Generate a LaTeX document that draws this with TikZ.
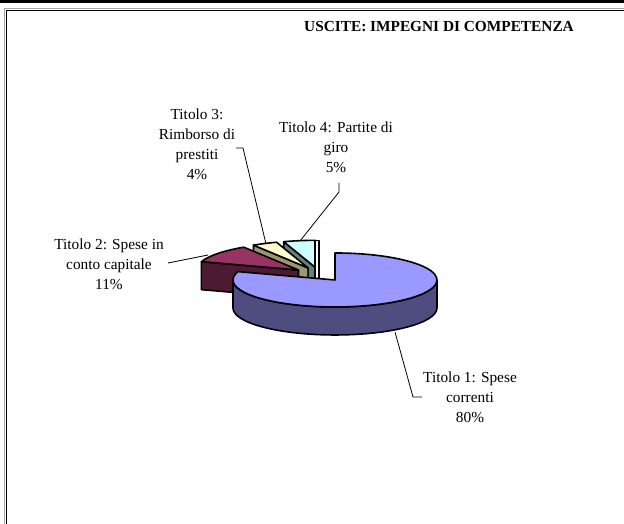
\documentclass[tikz,border=0pt]{standalone}
\usepackage{fontspec}
\setmainfont{Liberation Serif}
\usetikzlibrary{calc}
\definecolor{blueTop}{HTML}{9999FF}
\definecolor{blueSide}{HTML}{4D4D80}
\definecolor{redTop}{HTML}{993366}
\definecolor{redSide}{HTML}{4D1A33}
\definecolor{yelTop}{HTML}{FFFFCC}
\definecolor{yelSide}{HTML}{999970}
\definecolor{cyaTop}{HTML}{CCFFFF}
\definecolor{cyaSide}{HTML}{668080}
\begin{document}
\begin{tikzpicture}[x=0.75pt,y=0.75pt,
  slice/.style={draw=black,line width=1.2pt,line join=round},
  leader/.style={draw=black,line width=0.6pt},
  lbl/.style={align=center,inner sep=0pt,font=\fontsize{11.5}{15}\selectfont},
  ttl/.style={inner sep=0pt,font=\fontsize{11.5}{14}\selectfont\bfseries}]
\useasboundingbox (0,0) rectangle (624,524);
% frame
\fill[black] (0,521) rectangle (624,524);
\draw[gray!70,line width=0.7pt] (4.8,0) -- (4.8,515.2) -- (624,515.2);
\draw[black,line width=1.1pt] (6.5,0) -- (6.5,513.6) -- (624,513.6);
% pie geometry
\def\rx{102}\def\ry{27}\def\dep{28}
\coordinate (P) at (319.4,249.7);
\coordinate (S1) at ($(P)+({0.26*\rx*cos(-54)},{0.26*\ry*sin(-54)})$);
\coordinate (S2) at ($(P)+({0.26*\rx*cos(142.2)},{0.26*\ry*sin(142.2)})$);
\coordinate (S3) at ($(P)+({0.26*\rx*cos(115.2)},{0.26*\ry*sin(115.2)})$);
\coordinate (S4) at ($(P)+({0.26*\rx*cos(99)},{0.26*\ry*sin(99)})$);
% Titolo 4 (cyan)
\filldraw[slice,fill=cyaSide] (S4) -- ($(S4)+({\rx*cos(108)},{\ry*sin(108)})$) -- ++(0,-\dep) -- ($(S4)+(0,-\dep)$) -- cycle;
\filldraw[slice,fill=cyaTop] (S4) -- ($(S4)+(0,\ry)$)
  arc[start angle=90,end angle=108,x radius=\rx,y radius=\ry] -- cycle;
\filldraw[slice,fill=white] ($(S4)+(0,\ry)$) -- ++(4,0) -- ++(0,-48) -- ++(-4,0) -- cycle;
% Titolo 3 (yellow)
\filldraw[slice,fill=yelSide] (S3) -- ($(S3)+({\rx*cos(122.4)},{\ry*sin(122.4)})$) -- ++(0,-\dep) -- ($(S3)+(0,-\dep)$) -- cycle;
\filldraw[slice,fill=yelTop] (S3) -- ($(S3)+({\rx*cos(108)},{\ry*sin(108)})$)
  arc[start angle=108,end angle=122.4,x radius=\rx,y radius=\ry] -- cycle;
% Titolo 2 (red)
\filldraw[slice,fill=redSide] (S2) -- ($(S2)+({\rx*cos(162)},{\ry*sin(162)})$) -- ++(0,-\dep) -- ($(S2)+(0,-\dep)$) -- cycle;
\filldraw[slice,fill=redTop] (S2) -- ($(S2)+({\rx*cos(122.4)},{\ry*sin(122.4)})$)
  arc[start angle=122.4,end angle=162,x radius=\rx,y radius=\ry] -- cycle;
% Titolo 1 (blue)
\filldraw[slice,fill=blueSide] ($(S1)+(-\rx,0)$)
  arc[start angle=180,end angle=360,x radius=\rx,y radius=\ry] -- ++(0,-\dep)
  arc[start angle=360,end angle=180,x radius=\rx,y radius=\ry] -- cycle;
\filldraw[slice,fill=blueTop] (S1) -- ($(S1)+({\rx*cos(162)},{\ry*sin(162)})$)
  arc[start angle=-198,end angle=90,x radius=\rx,y radius=\ry] -- cycle;
% title
\node[ttl] (title) at (439,497) {USCITE: IMPEGNI DI COMPETENZA};
% labels
\node[lbl] (t1) at (470,127) {Titolo 1: Spese\\correnti\\80\%};
\node[lbl] (t2) at (109,260) {Titolo 2: Spese in\\conto capitale\\11\%};
\node[lbl] (t3) at (197,379.5) {Titolo 3:\\Rimborso di\\prestiti\\4\%};
\node[lbl] (t4) at (336,377) {Titolo 4: Partite di\\giro\\5\%};
% leader lines
\coordinate (a1) at (395,192); \coordinate (k1) at (413,127); \coordinate (e1) at (422,127);
\coordinate (a2) at (208,269); \coordinate (e2) at (168,261);
\coordinate (a3) at (266,280); \coordinate (k3) at (243,376); \coordinate (e3) at (236,376);
\coordinate (a4) at (300,283); \coordinate (k4) at (339,332); \coordinate (e4) at (339,341);
\draw[leader] (a1) -- (k1) -- (e1);
\draw[leader] (a2) -- (e2);
\draw[leader] (a3) -- (k3) -- (e3);
\draw[leader] (a4) -- (k4) -- (e4);
\end{tikzpicture}
\end{document}
